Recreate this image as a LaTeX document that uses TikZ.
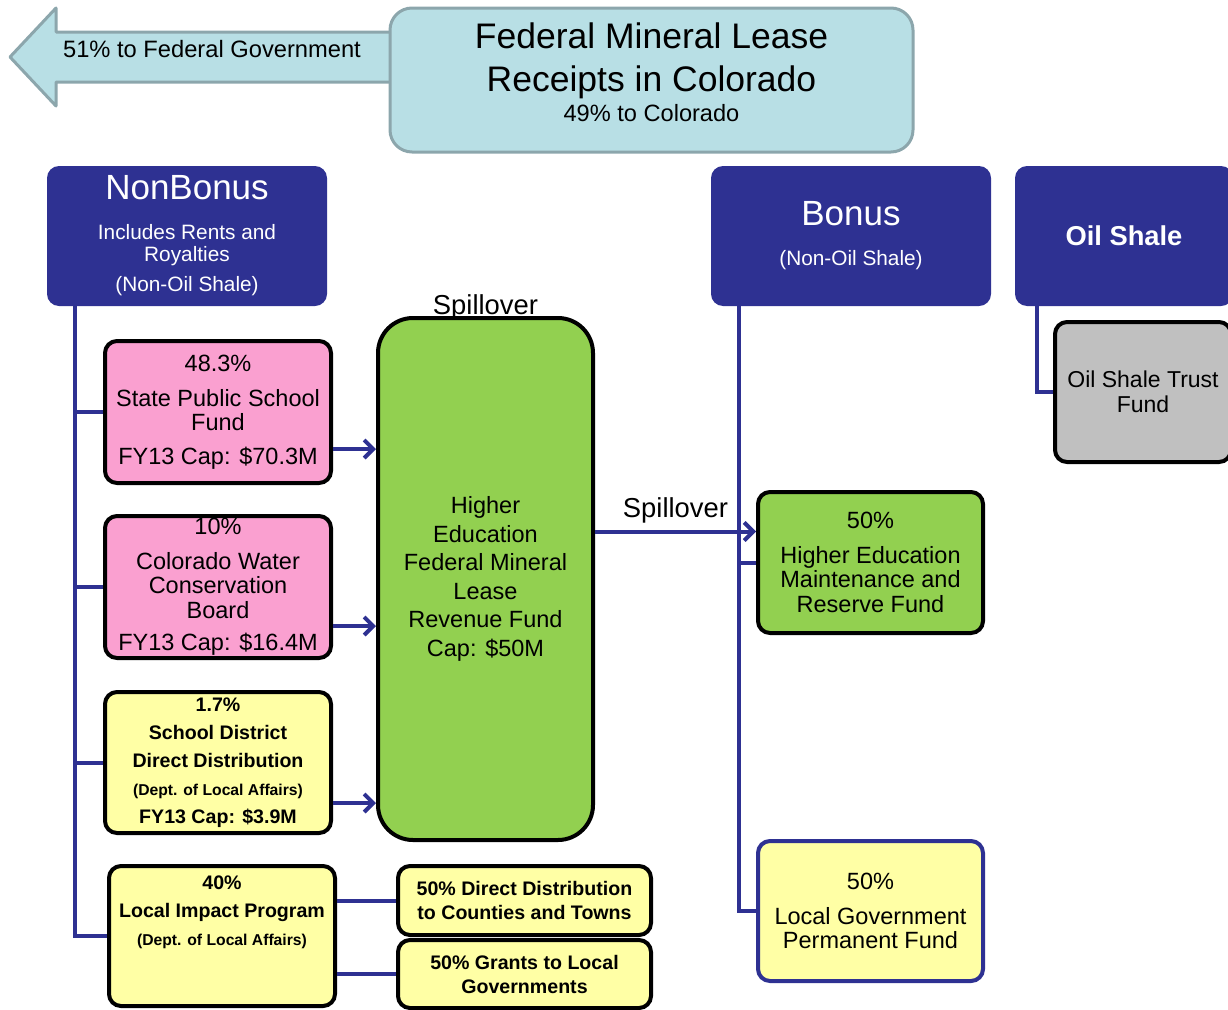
\documentclass[tikz,border=0pt]{standalone}
\usepackage{fontspec}
\setmainfont{Liberation Sans}
\usetikzlibrary{arrows.meta}
\definecolor{fmlnavy}{RGB}{46,49,146}
\definecolor{fmlsky}{RGB}{184,223,229}
\definecolor{fmlskyline}{RGB}{140,166,172}
\definecolor{fmlpink}{RGB}{250,160,208}
\definecolor{fmlgreen}{RGB}{146,208,80}
\definecolor{fmlyellow}{RGB}{255,255,165}
\definecolor{fmlgray}{RGB}{192,192,192}
\newcommand{\fsz}[2]{\fontsize{#1}{#2}\selectfont}
\tikzset{
  fund/.style={draw=black,line width=4pt,rounded corners=12pt,align=center,inner sep=0pt},
  head/.style={fill=fmlnavy,text=white,rounded corners=12pt,align=center,inner sep=0pt,minimum height=140pt},
  link/.style={draw=fmlnavy,line width=4pt},
  flow/.style={link,-{Straight Barb[length=9pt,width=18pt]}},
}
\begin{document}
\begin{tikzpicture}[x=1pt,y=-1pt]
\useasboundingbox (0,0) rectangle (1228,1009);
% 51% arrow, tail hidden under the receipts box
\draw[fill=fmlsky,draw=fmlskyline,line width=3pt,line join=round] (420,32)--(56,32)--(56,8)--(10,57)--(56,106)--(56,82)--(420,82)--cycle;
\node (fedgov) at (212,49) {\fsz{23.7}{28}51\% to Federal Government};
\node[fill=fmlsky,draw=fmlskyline,line width=3pt,rounded corners=22pt,align=center,inner sep=0pt,minimum width=523pt,minimum height=144pt,text depth=15pt,font=\fsz{35.5}{43}] (fml) at (651.5,80)
  {Federal Mineral Lease\\Receipts in Colorado\\[-13pt]{\fsz{23.6}{28}49\% to Colorado}};
% headers
\node[head,minimum width=280pt,font=\fsz{20.8}{22}] (nonbonus) at (187,236) {{\fsz{35}{40}NonBonus}\\[18pt]Includes Rents and\\Royalties\\[8pt](Non-Oil Shale)};
\node[head,minimum width=280pt,font=\fsz{20.8}{22}] (bonus) at (851,236) {{\fsz{35}{40}Bonus}\\[18pt](Non-Oil Shale)};
\node[head,minimum width=218pt,font=\bfseries\fsz{27.3}{30}] (oilshale) at (1124,236) {Oil Shale};
% nonbonus funds
\node[fund,fill=fmlpink,minimum width=226pt,minimum height=142pt,font=\fsz{23.5}{24.5}] (spsf) at (218,412) {48.3\%\\[10pt]State Public School\\Fund\\[9pt]FY13 Cap: \$70.3M};
\node[fund,fill=fmlpink,minimum width=226pt,minimum height=142pt,font=\fsz{23.5}{24.5}] (cwcb) at (218,587) {10\%\\[10pt]Colorado Water\\Conservation\\Board\\[8pt]FY13 Cap: \$16.4M};
\node[fund,fill=fmlyellow,minimum width=226pt,minimum height=141pt,font=\bfseries\fsz{19.6}{28}] (sddd) at (218,762.5) {1.7\%\\School District\\Direct Distribution\\{\fsz{15.7}{18}(Dept. of Local Affairs)}\\FY13 Cap: \$3.9M};
\node[fund,fill=fmlyellow,minimum width=226pt,minimum height=140pt] (lip) at (222,936) {};
\node[anchor=north,align=center,inner sep=0pt,font=\bfseries\fsz{19.6}{28}] (lipt) at ([yshift=-12pt]lip.north) {40\%\\Local Impact Program\\{\fsz{15.7}{18}(Dept. of Local Affairs)}};
\node[fund,fill=fmlyellow,minimum width=253pt,minimum height=69pt,font=\bfseries\fsz{19.6}{24}] (dd) at (524.5,900.5) {50\% Direct Distribution\\to Counties and Towns};
\node[fund,fill=fmlyellow,minimum width=253pt,minimum height=68pt,font=\bfseries\fsz{19.6}{24}] (grants) at (524.5,974) {50\% Grants to Local\\Governments};
\node[fund,fill=fmlgreen,rounded corners=35pt,minimum width=215pt,minimum height=522pt,font=\fsz{23.5}{28.6}] (hefml) at (485.5,579) {Higher\\Education\\Federal Mineral\\Lease\\Revenue Fund\\Cap: \$50M};
\node[anchor=base,inner sep=0pt,font=\fsz{27.4}{30}] (spilltop) at ([yshift=2pt]hefml.north) {Spillover};
% bonus and oil shale funds
\node[fund,fill=fmlgreen,minimum width=225pt,minimum height=141pt,font=\fsz{23.5}{24.5}] (hemr) at (870.5,562.5) {50\%\\[10pt]Higher Education\\Maintenance and\\Reserve Fund};
\node[fund,draw=fmlnavy,fill=fmlyellow,minimum width=225pt,minimum height=140pt,font=\fsz{23.5}{24.5}] (lgpf) at (870.5,911) {50\%\\[10pt]Local Government\\Permanent Fund};
\node[fund,fill=fmlgray,minimum width=176pt,minimum height=140pt,font=\fsz{23}{25}] (ostf) at (1143,392) {Oil Shale Trust\\Fund};
% connectors
\coordinate (nbtrunk) at ([xshift=28pt]nonbonus.south west);
\draw[link] (nbtrunk) |- (lip.west);
\foreach \b in {spsf,cwcb,sddd}{\draw[link] (\b.west) -- (\b.west -| nbtrunk);}
\foreach \b/\dy in {spsf/37,cwcb/39,sddd/40.5}{
  \coordinate (t) at ([yshift=-\dy pt]\b.east);
  \draw[flow] (t) -- (t -| hefml.west);}
\draw[link] (dd.west) -- (dd.west -| lip.east);
\draw[link] (grants.west) -- (grants.west -| lip.east);
\coordinate (bntrunk) at ([xshift=28pt]bonus.south west);
\draw[link] (bntrunk) |- (lgpf.west);
\draw[link] (hemr.west) -- (hemr.west -| bntrunk);
\coordinate (spill) at ([yshift=31pt]hemr.west);
\draw[flow] (spill -| hefml.east) -- node[above=6pt,inner sep=0pt,font=\fsz{27.4}{30}] (spillmid) {Spillover} (spill);
\coordinate (ostrunk) at ([xshift=22pt]oilshale.south west);
\draw[link] (ostrunk) |- (ostf.west);
\end{tikzpicture}
\end{document}
